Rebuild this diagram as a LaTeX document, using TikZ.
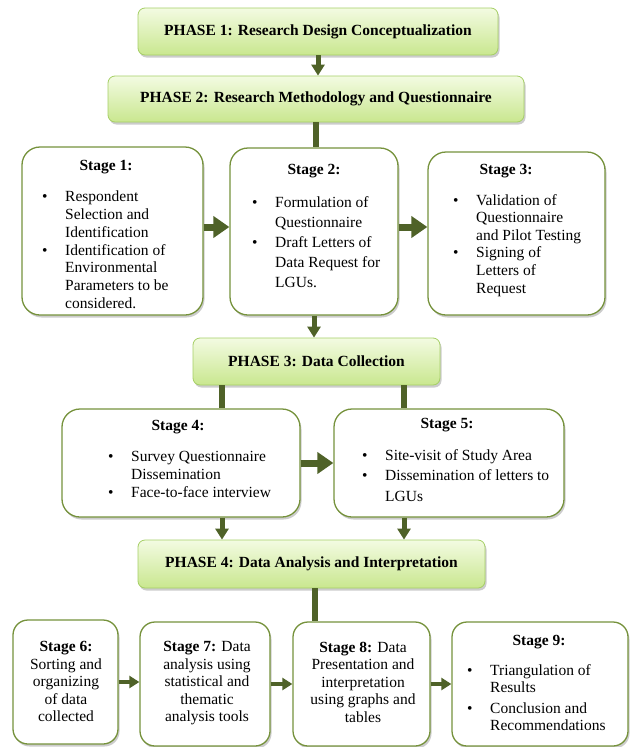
\documentclass[tikz,border=0pt]{standalone}
\usepackage{fontspec}
\setmainfont{Liberation Serif}
\usetikzlibrary{arrows.meta,shadows,calc}
\definecolor{phtop}{HTML}{F3FBE2}
\definecolor{phbot}{HTML}{C9E78F}
\definecolor{phedge}{HTML}{A6CF66}
\definecolor{stedge}{HTML}{76923C}
\definecolor{arrowc}{HTML}{4F6228}
\newcommand{\fsz}{\fontsize{15.5}{17.7}\selectfont}
\newcommand{\bu}{\makebox[23pt][l]{\textbullet}}
\newcommand{\nb}{\hspace*{23pt}}
\begin{document}
\begin{tikzpicture}[x=1pt,y=-1pt,
  shadowed/.style={drop shadow={shadow xshift=1.5pt,shadow yshift=-2.5pt,opacity=0.2,fill=black}},
  phase/.style={draw=phedge, line width=0.8pt, rounded corners=7pt, top color=phtop, bottom color=phbot, inner sep=0pt, font=\bfseries\fsz, shadowed},
  stagebox/.style={draw=stedge, line width=1.3pt, rounded corners=18pt, fill=white, inner sep=0pt, shadowed},
  ttl/.style={font=\bfseries\fsz, inner sep=0pt, anchor=base},
  body/.style={font=\fsz, inner sep=0pt, anchor=north west, align=left},
  cbody/.style={font=\fsz, inner sep=0pt, anchor=north, align=center},
  link/.style={draw=arrowc, line width=6.5pt},
  smallarrow/.style={draw=arrowc, line width=5pt, -{Triangle[length=11pt,width=13pt]}},
  bigarrow/.style={draw=arrowc, line width=7pt, -{Triangle[length=16pt,width=21pt]}},
  midarrow/.style={draw=arrowc, line width=4.5pt, -{Triangle[length=10pt,width=12pt]}}
]
\fill[white] (0,0) rectangle (630,747);
\useasboundingbox (0,0) rectangle (630,747);

% phases
\node[phase, minimum width=360pt, minimum height=47pt] (p1) at (318,31.5) {PHASE 1: Research Design Conceptualization};
\node[phase, minimum width=416pt, minimum height=46pt] (p2) at (316,99) {PHASE 2: Research Methodology and Questionnaire};
\node[phase, minimum width=247pt, minimum height=47pt] (p3) at (316.5,361.5) {PHASE 3: Data Collection};
\node[phase, minimum width=347pt, minimum height=48pt] (p4) at (311.5,564) {PHASE 4: Data Analysis and Interpretation};

% stage boxes
\node[stagebox, minimum width=181pt, minimum height=168pt] (s1) at (112.5,231) {};
\node[stagebox, minimum width=168pt, minimum height=167pt] (s2) at (314,231.5) {};
\node[stagebox, minimum width=177pt, minimum height=163pt] (s3) at (516.5,233.5) {};
\node[stagebox, minimum width=238pt, minimum height=108pt] (s4) at (181,463) {};
\node[stagebox, minimum width=230pt, minimum height=108pt] (s5) at (449,463) {};
\node[stagebox, minimum width=105pt, minimum height=124pt, rounded corners=15pt] (s6) at (65.5,682) {};
\node[stagebox, minimum width=130pt, minimum height=124pt, rounded corners=15pt] (s7) at (205,684) {};
\node[stagebox, minimum width=137pt, minimum height=124pt, rounded corners=15pt] (s8) at (361.5,684) {};
\node[stagebox, minimum width=176pt, minimum height=124pt, rounded corners=15pt] (s9) at (540,684) {};

% stage texts
\node[ttl] (s1t) at (106,170) {Stage 1:};
\node[body] (s1b) at (42,191) {\bu Respondent\\\nb Selection and\\\nb Identification\\\bu Identification of\\\nb Environmental\\\nb Parameters to be\\\nb considered.};
\node[ttl] (s2t) at (314,174) {Stage 2:};
\node[body, font=\fontsize{15.5}{20}\selectfont] (s2b) at (252,196) {\bu Formulation of\\\nb Questionnaire\\\bu Draft Letters of\\\nb Data Request for\\\nb LGUs.};
\node[ttl] (s3t) at (506,174) {Stage 3:};
\node[body, font=\fontsize{15.5}{17.6}\selectfont] (s3b) at (453,194) {\bu Validation of\\\nb Questionnaire\\\nb and Pilot Testing\\\bu Signing of\\\nb Letters of\\\nb Request};
\node[ttl] (s4t) at (178,430) {Stage 4:};
\node[body, font=\fontsize{15.5}{18}\selectfont] (s4b) at (108,451) {\bu Survey Questionnaire\\\nb Dissemination\\\bu Face-to-face interview};
\node[ttl] (s5t) at (447,428) {Stage 5:};
\node[body, font=\fontsize{15.5}{20.5}\selectfont] (s5b) at (362,449) {\bu Site-visit of Study Area\\\bu Dissemination of letters to\\\nb LGUs};
\node[cbody, font=\fontsize{15.5}{17.5}\selectfont] (s6b) at (66,641.5) {\textbf{Stage 6:}\\Sorting and\\organizing\\of data\\collected};
\node[cbody, font=\fontsize{15.5}{17.5}\selectfont] (s7b) at (207,641.5) {\textbf{Stage 7:} Data\\analysis using\\statistical and\\thematic\\analysis tools};
\node[cbody, font=\fontsize{15.5}{17.5}\selectfont] (s8b) at (363,641.5) {\textbf{Stage 8:} Data\\Presentation and\\interpretation\\using graphs and\\tables};
\node[ttl] (s9t) at (539,645) {Stage 9:};
\node[body, font=\fontsize{15.5}{17.5}\selectfont] (s9b) at (467,664) {\bu Triangulation of\\\nb Results\\[3pt]\bu Conclusion and\\\nb Recommendations};

% helper coordinates
\coordinate (c4) at (222,0);
\coordinate (c5) at (404,0);
\coordinate (c8) at (315,0);
\coordinate (r1) at (0,227);

% connectors
\draw[smallarrow] (p1.south) -- (p1.south |- p2.north);
\draw[link] (p2.south) -- (p2.south |- s2.north);
\draw[bigarrow] (s1.east |- r1) -- (s2.west |- r1);
\draw[bigarrow] (s2.east |- r1) -- (s3.west |- r1);
\draw[smallarrow] (s2.south) -- (s2.south |- p3.north);
\draw[link] (c4 |- p3.south) -- (c4 |- s4.north);
\draw[link] (c5 |- p3.south) -- (c5 |- s5.north);
\draw[bigarrow] (s4.east) -- (s5.west);
\draw[smallarrow] (c4 |- s4.south) -- (c4 |- p4.north);
\draw[smallarrow] (c5 |- s5.south) -- (c5 |- p4.north);
\draw[link] (c8 |- p4.south) -- (c8 |- s8.north);
\draw[midarrow] (s6.east) -- (s7.west |- s6.east);
\draw[midarrow] (s7.east) -- (s8.west |- s7.east);
\draw[midarrow] (s8.east) -- (s9.west |- s8.east);
\end{tikzpicture}
\end{document}
